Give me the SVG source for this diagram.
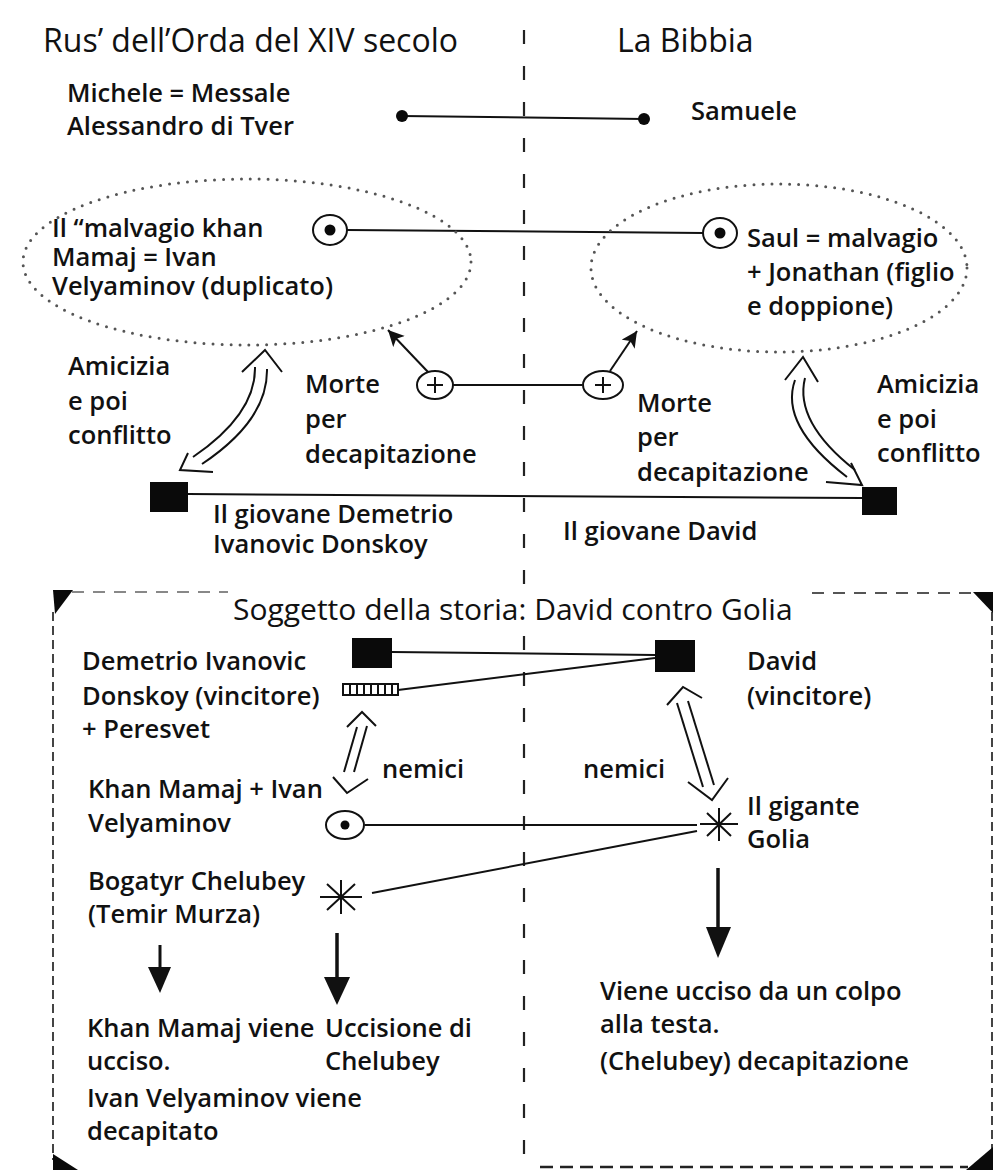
<svg xmlns="http://www.w3.org/2000/svg" width="1005" height="1170" viewBox="0 0 1005 1170">
<style>
.t{font-family:"Open Sans","Liberation Sans",sans-serif;font-size:25.5px;font-weight:600;fill:#111}
.h{font-size:32px;font-weight:400}
.s{font-size:30px;font-weight:400}
.ln{stroke:#111;stroke-width:2;fill:none}
.dl{stroke:#222;stroke-width:2.2;fill:none;stroke-dasharray:14 22}
.dot{stroke:#555;stroke-width:3;fill:none;stroke-dasharray:0 9;stroke-linecap:round}
.blk{fill:#0a0a0a}
.box{stroke:#111;stroke-width:2;fill:none}
</style>
<defs>
<marker id="ah" markerUnits="userSpaceOnUse" markerWidth="20" markerHeight="20" refX="16" refY="8" orient="auto">
<path d="M0,0 L16,8 L0,16 L4,8 Z" fill="#111"/>
</marker>
</defs>
<rect width="1005" height="1170" fill="#fff"/>

<g id="divider">
<line class="dl" x1="524" y1="30" x2="524" y2="590"/>
<line class="dl" x1="524" y1="636" x2="524" y2="1170"/>
</g>

<g id="headers">
<text class="t h" x="43" y="52">Rus’ dell’Orda del XIV secolo</text>
<text class="t h" x="617" y="52">La Bibbia</text>
</g>

<g id="connectors">
<line class="ln" x1="402" y1="116" x2="644" y2="119"/>
<line class="ln" x1="347" y1="230" x2="703" y2="233"/>
<line class="ln" x1="453" y1="385" x2="582" y2="385"/>
<line class="ln" x1="428" y1="372" x2="388" y2="330" marker-end="url(#ah)"/>
<line class="ln" x1="610" y1="371" x2="637" y2="331" marker-end="url(#ah)"/>
<line class="ln" x1="188" y1="494" x2="862" y2="498"/>
<path class="ln" d="M255,367 Q256,414 193,457 M267,369 Q268,420 202,464"/>
<polyline class="ln" points="242,372 265,350 282,372"/>
<polyline class="ln" points="188,453 180,470 213,472"/>
<path class="ln" d="M795,380 Q779,425 847,477 M805,378 Q794,422 855,470"/>
<polyline class="ln" points="785,380 803,357 818,382"/>
<polyline class="ln" points="826,482 862,485 851,463"/>
<line class="ln" x1="392" y1="652" x2="655" y2="655"/>
<line class="ln" x1="398" y1="690" x2="655" y2="658"/>
<line class="ln" x1="365" y1="825" x2="697" y2="825"/>
<line class="ln" x1="372" y1="893" x2="697" y2="831"/>
<line class="ln" x1="357" y1="727" x2="344" y2="772"/>
<line class="ln" x1="367" y1="726" x2="354" y2="772"/>
<polyline class="ln" points="347,727 362,712 376,726"/>
<polyline class="ln" points="333,777 347,793 368,779"/>
<line class="ln" x1="677" y1="703" x2="703" y2="787"/>
<line class="ln" x1="688" y1="701" x2="714" y2="785"/>
<polyline class="ln" points="667,705 683,687 702,698"/>
<polyline class="ln" points="688,782 712,800 728,778"/>
<line x1="160" y1="945" x2="160" y2="970" stroke="#111" stroke-width="3"/>
<polygon points="148,967 171,967 160,993" fill="#111"/>
<line x1="337" y1="933" x2="337" y2="980" stroke="#111" stroke-width="3.5"/>
<polygon points="324,977 350,977 337,1005" fill="#111"/>
<line x1="718" y1="868" x2="718" y2="930" stroke="#111" stroke-width="3.5"/>
<polygon points="706,927 731,927 718,958" fill="#111"/>
</g>

<g id="node-michele">
<text class="t" x="67" y="102">Michele = Messale</text>
<text class="t" x="67" y="135">Alessandro di Tver</text>
<circle cx="402" cy="116" r="6" class="blk"/>
</g>
<g id="node-samuele">
<circle cx="644" cy="119" r="6" class="blk"/>
<text class="t" x="691" y="120">Samuele</text>
</g>

<g id="node-mamaj">
<ellipse class="dot" cx="247" cy="262" rx="224" ry="83"/>
<ellipse cx="330" cy="230" rx="17" ry="15" class="box" stroke-width="2.5"/>
<circle cx="330" cy="230" r="5.5" class="blk"/>
<text class="t" x="52" y="237">Il “malvagio khan</text>
<text class="t" x="52" y="266">Mamaj = Ivan</text>
<text class="t" x="52" y="295">Velyaminov (duplicato)</text>
</g>

<g id="node-saul">
<ellipse class="dot" cx="779" cy="268" rx="188" ry="84"/>
<ellipse cx="720" cy="233" rx="17" ry="15" class="box" stroke-width="2.5"/>
<circle cx="720" cy="233" r="5.5" class="blk"/>
<text class="t" x="747" y="247">Saul = malvagio</text>
<text class="t" x="747" y="281">+ Jonathan (figlio</text>
<text class="t" x="747" y="315">e doppione)</text>
</g>

<g id="node-death-left">
<ellipse cx="435" cy="385" rx="18" ry="14" class="box"/>
<path class="ln" d="M427,385 H443 M435,377 V393"/>
<text class="t" x="305" y="393">Morte</text>
<text class="t" x="305" y="428">per</text>
<text class="t" x="305" y="463">decapitazione</text>
</g>
<g id="node-death-right">
<ellipse cx="603" cy="385" rx="20" ry="14" class="box"/>
<path class="ln" d="M595,385 H611 M603,377 V393"/>
<text class="t" x="637" y="412">Morte</text>
<text class="t" x="637" y="446">per</text>
<text class="t" x="637" y="481">decapitazione</text>
</g>

<g id="label-friend-left">
<text class="t" x="68" y="375">Amicizia</text>
<text class="t" x="68" y="410">e poi</text>
<text class="t" x="68" y="444">conflitto</text>
</g>
<g id="label-friend-right">
<text class="t" x="877" y="393">Amicizia</text>
<text class="t" x="877" y="428">e poi</text>
<text class="t" x="877" y="462">conflitto</text>
</g>

<g id="node-demetrio-young">
<rect x="150" y="482" width="38" height="30" class="blk"/>
<text class="t" x="213" y="523">Il giovane Demetrio</text>
<text class="t" x="213" y="553">Ivanovic Donskoy</text>
</g>
<g id="node-david-young">
<rect x="862" y="487" width="35" height="28" class="blk"/>
<text class="t" x="563" y="540">Il giovane David</text>
</g>

<g id="frame">
<path d="M53,612 V1160" stroke="#444" stroke-width="2" stroke-dasharray="9 5" fill="none"/>
<path d="M992,612 V1150" stroke="#444" stroke-width="2" stroke-dasharray="9 5" fill="none"/>
<path d="M72,592 H228" stroke="#888" stroke-width="2" stroke-dasharray="12 9" fill="none"/>
<path d="M812,593 H975" stroke="#555" stroke-width="2" stroke-dasharray="12 9" fill="none"/>
<path d="M540,1167 H968" stroke="#222" stroke-width="2.5" stroke-dasharray="13 7" fill="none"/>
<polygon points="53,590 73,590 55,614" class="blk"/>
<polygon points="973,592 993,592 993,613" class="blk"/>
<polygon points="53,1154 78,1170 53,1170" class="blk"/>
<polygon points="993,1147 993,1170 966,1170" class="blk"/>
<text class="t s" x="233" y="620">Soggetto della storia: David contro Golia</text>
</g>

<g id="node-demetrio">
<rect x="352" y="638" width="40" height="30" class="blk"/>
<rect x="343" y="684" width="55" height="11" fill="#fff" stroke="#111" stroke-width="2"/>
<path d="M350,684 V695 M357,684 V695 M364,684 V695 M371,684 V695 M378,684 V695 M385,684 V695 M392,684 V695" stroke="#111" stroke-width="2"/>
<text class="t" x="82" y="670">Demetrio Ivanovic</text>
<text class="t" x="82" y="705">Donskoy (vincitore)</text>
<text class="t" x="82" y="738">+ Peresvet</text>
</g>

<g id="node-david">
<rect x="655" y="640" width="40" height="32" class="blk"/>
<text class="t" x="747" y="670">David</text>
<text class="t" x="747" y="705">(vincitore)</text>
</g>

<g id="label-nemici">
<text class="t" x="382" y="778">nemici</text>
<text class="t" x="583" y="778">nemici</text>
</g>

<g id="node-mamaj-bottom">
<ellipse cx="345" cy="825" rx="19" ry="14" class="box" stroke-width="2.5"/>
<circle cx="345" cy="825" r="4.5" class="blk"/>
<text class="t" x="88" y="798">Khan Mamaj + Ivan</text>
<text class="t" x="88" y="832">Velyaminov</text>
</g>

<g id="node-golia">
<path class="ln" d="M700,824 H738 M719,808 V841 M707,813 L731,836 M731,813 L707,836" stroke-width="2.5"/>
<text class="t" x="747" y="815">Il gigante</text>
<text class="t" x="747" y="848">Golia</text>
</g>

<g id="node-chelubey">
<path class="ln" d="M320,897 H362 M341,880 V914 M327,884 L355,910 M355,884 L327,910" stroke-width="2.5"/>
<text class="t" x="88" y="890">Bogatyr Chelubey</text>
<text class="t" x="88" y="923">(Temir Murza)</text>
</g>

<g id="node-outcome-left">
<text class="t" x="87" y="1037">Khan Mamaj viene</text>
<text class="t" x="87" y="1070">ucciso.</text>
<text class="t" x="87" y="1107">Ivan Velyaminov viene</text>
<text class="t" x="87" y="1140">decapitato</text>
</g>
<g id="node-outcome-mid">
<text class="t" x="325" y="1037">Uccisione di</text>
<text class="t" x="325" y="1070">Chelubey</text>
</g>
<g id="node-outcome-right">
<text class="t" x="600" y="1000">Viene ucciso da un colpo</text>
<text class="t" x="600" y="1033">alla testa.</text>
<text class="t" x="600" y="1070"> (Chelubey) decapitazione</text>
</g>
</svg>
